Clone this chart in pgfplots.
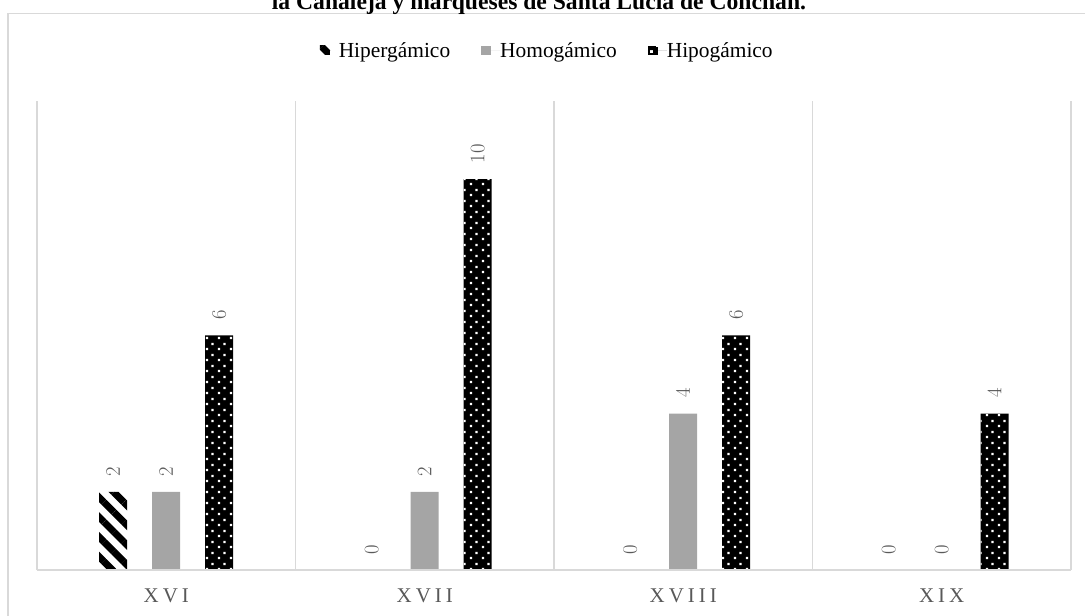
\documentclass[border=0pt]{standalone}
\usepackage{fontspec}
\setmainfont{Liberation Serif}
\newfontfamily\spacedfont[LetterSpace=19]{Liberation Serif}
\usepackage{pgfplots}
\pgfplotsset{compat=1.18}
\usetikzlibrary{patterns.meta}
\definecolor{gridgray}{HTML}{D9D9D9}
\definecolor{bargray}{HTML}{A5A5A5}
\definecolor{txtgray}{HTML}{595959}

\tikzdeclarepattern{
  name=wdots, type=uncolored,
  bounding box={(0bp,0bp) and (12bp,11bp)},
  tile size={(12bp,11bp)},
  code={
    \fill (2bp,2bp) rectangle (4.5bp,4.5bp);
    \fill (8bp,7.5bp) rectangle (10.5bp,10bp);
  }
}

\begin{document}
\begin{tikzpicture}
\begin{axis}[
  at={(0bp,0bp)}, anchor=south west,
  scale only axis, width=1034bp, height=469bp,
  xmin=-0.5, xmax=3.5, ymin=0, ymax=12,
  ybar=25bp, bar width=28bp,
  axis on top,
  axis line style={draw=none},
  xtick={0,1,2,3}, xticklabels={XVI,XVII,XVIII,XIX},
  major tick length=0pt,
  xticklabel style={anchor=base, yshift=-32.5bp, text=txtgray, font=\spacedfont\fontsize{21}{24}\selectfont},
  ytick=\empty,
  extra x ticks={-0.5,0.5,1.5,2.5,3.5}, extra x tick labels={},
  extra x tick style={grid=major, major grid style={gridgray, line width=1.3bp}},
  extra y ticks={0}, extra y tick labels={},
  extra y tick style={grid=major, major grid style={gridgray, line width=1.3bp}},
  nodes near coords,
  every node near coord/.append style={rotate=90, anchor=west, text=txtgray,
     font=\fontsize{20}{22}\selectfont, inner xsep=15.5bp, inner ysep=0pt},
  legend columns=3,
  legend style={draw=none, fill=none, at={(axis description cs:0.4925,1.107)}, anchor=center,
     font=\fontsize{21.5}{24}\selectfont, inner xsep=0pt,
     /tikz/every even column/.append style={column sep=31bp},
     nodes={inner xsep=0pt}},
  legend image code/.code={\path[#1, draw=none] (0bp,-4bp) rectangle (10bp,5bp);
     \path (0bp,0bp) -- (19bp,0bp);},
]
\addplot[draw=none, fill=none, postaction={pattern={Lines[angle=-45, distance=14bp, line width=7bp]}, pattern color=black}]
  coordinates {(0,2) (1,0) (2,0) (3,0)};
\addplot[draw=none, fill=bargray] coordinates {(0,2) (1,2) (2,4) (3,0)};
\addplot[draw=none, fill=black, postaction={pattern=wdots, pattern color=white}]
  coordinates {(0,6) (1,10) (2,6) (3,4)};
\legend{Hipergámico, Homogámico, Hipogámico}
\end{axis}
\draw[gridgray, line width=1.5bp] (-29bp,-80bp) -- (-29bp,556.5bp) -- (1100bp,556.5bp);
\node[anchor=base, font=\bfseries\fontsize{23.7}{26}\selectfont, inner sep=0pt] at (502bp,560.5bp)
  {la Canaleja y marqueses de Santa Lucía de Conchán.};
\pgfresetboundingbox
\useasboundingbox (-37bp,-46bp) rectangle (1048bp,570bp);
\end{tikzpicture}
\end{document}
